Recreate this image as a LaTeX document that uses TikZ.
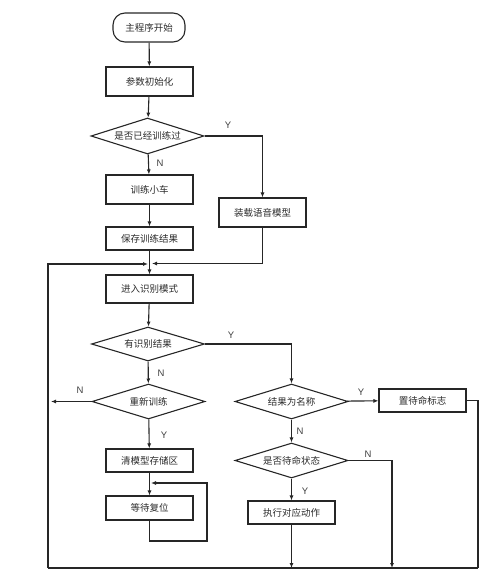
\documentclass[tikz,border=0pt]{standalone}
\usepackage{fontspec}
\setmainfont{Liberation Sans}
\newfontfamily\cjk{Noto Sans CJK SC}
\usetikzlibrary{shapes.geometric,arrows.meta}
\definecolor{linec}{HTML}{262626}
\definecolor{textc}{HTML}{2B2B2B}
\definecolor{labc}{HTML}{404040}
\begin{document}
\begin{tikzpicture}[x=1pt,y=-1pt,
  box/.style={draw=linec, line width=1.1pt, minimum width=87pt, minimum height=29pt, inner sep=0pt,
     font=\cjk\fontsize{9.5}{11}\selectfont, text=textc},
  dec/.style={diamond, aspect=3, draw=linec, line width=1.1pt, inner sep=0pt,
     minimum width=113pt, minimum height=35pt, font=\cjk\fontsize{9.5}{11}\selectfont, text=textc},
  arr/.style={draw=linec, line width=1.1pt, -{Latex[length=5pt,width=4pt]}},
  ln/.style={draw=linec, line width=1.1pt},
  lab/.style={font=\fontsize{9.5}{11}\selectfont, text=labc, inner sep=0pt}]
\useasboundingbox (0,0) rectangle (500,587);
% nodes
\node[box, rounded corners=12pt, minimum width=72pt, minimum height=29pt] (start) at (149,27.5) {主程序开始};
\node[box] (init) at (149.5,81.5) {参数初始化};
\node[dec, minimum height=36pt] (d1) at (147.5,136) {是否已经训练过};
\node[box] (train) at (149.5,189.5) {训练小车};
\node[box, minimum height=23pt] (save) at (149.5,238.5) {保存训练结果};
\node[box] (load) at (262.5,212.5) {装载语音模型};
\node[box, minimum height=28pt] (recog) at (149.5,289) {进入识别模式};
\node[dec, minimum height=34pt] (d2) at (148,344) {有识别结果};
\node[dec] (d3) at (148.5,401.5) {重新训练};
\node[box, minimum height=23pt] (clear) at (149.5,460.5) {清模型存储区};
\node[box, minimum height=24pt] (wait) at (149.5,508) {等待复位};
\node[dec] (d4) at (291.5,401.5) {结果为名称};
\node[box, minimum height=23pt] (flag) at (422.5,400.5) {置待命标志};
\node[dec] (d5) at (291.5,460.5) {是否待命状态};
\node[box, minimum height=23pt] (exec) at (291.5,512.5) {执行对应动作};
% helper coordinates
\coordinate (mL) at (148,264);
\coordinate (mR) at (152,263.5);
\coordinate (bl) at (48,568);
\coordinate (br) at (478,568);
\coordinate (d3end) at (51,401.5);
\coordinate (loopA) at (149.5,541);
\coordinate (loopB) at (207,483);
\coordinate (loopEnd) at (151,483);
\coordinate (d5turn) at (392,460.5);
\coordinate (d5end) at (392,568);
\coordinate (execend) at (291.5,568);
% connectors
\draw[arr] (start) -- (init);
\draw[arr] (init) -- (d1);
\draw[arr] (d1) -- (train);
\draw[arr] (d1.east) -| (load.north);
\draw[arr] (train) -- (save);
\draw[arr] (save) -- (recog);
\draw[arr] (load.south) |- (mR);
\draw[ln] (br) -- (bl);
\draw[arr] (bl) |- (mL);
\draw[arr] (recog) -- (d2);
\draw[arr] (d2.east) -| (d4.north);
\draw[arr] (d2) -- (d3);
\draw[arr] (d3.west) -- (d3end);
\draw[arr] (d3) -- (clear);
\draw[arr] (clear) -- (wait);
\draw[arr] (wait.south) -- (loopA) -| (loopB) -- (loopEnd);
\draw[arr] (d4) -- (flag);
\draw[ln] (flag.east) -| (br);
\draw[arr] (d4) -- (d5);
\draw[arr] (d5.east) -- (d5turn) -- (d5end);
\draw[arr] (d5) -- (exec);
\draw[arr] (exec) -- (execend);
% labels
\node[lab] (l1) at (228,125) {Y};
\node[lab] (l2) at (160,163) {N};
\node[lab] (l3) at (231,335) {Y};
\node[lab] (l4) at (161,373) {N};
\node[lab] (l5) at (80,390) {N};
\node[lab] (l6) at (164,435) {Y};
\node[lab] (l7) at (361,392) {Y};
\node[lab] (l8) at (300,431) {N};
\node[lab] (l9) at (368,454) {N};
\node[lab] (l10) at (305,491) {Y};
\end{tikzpicture}
\end{document}
